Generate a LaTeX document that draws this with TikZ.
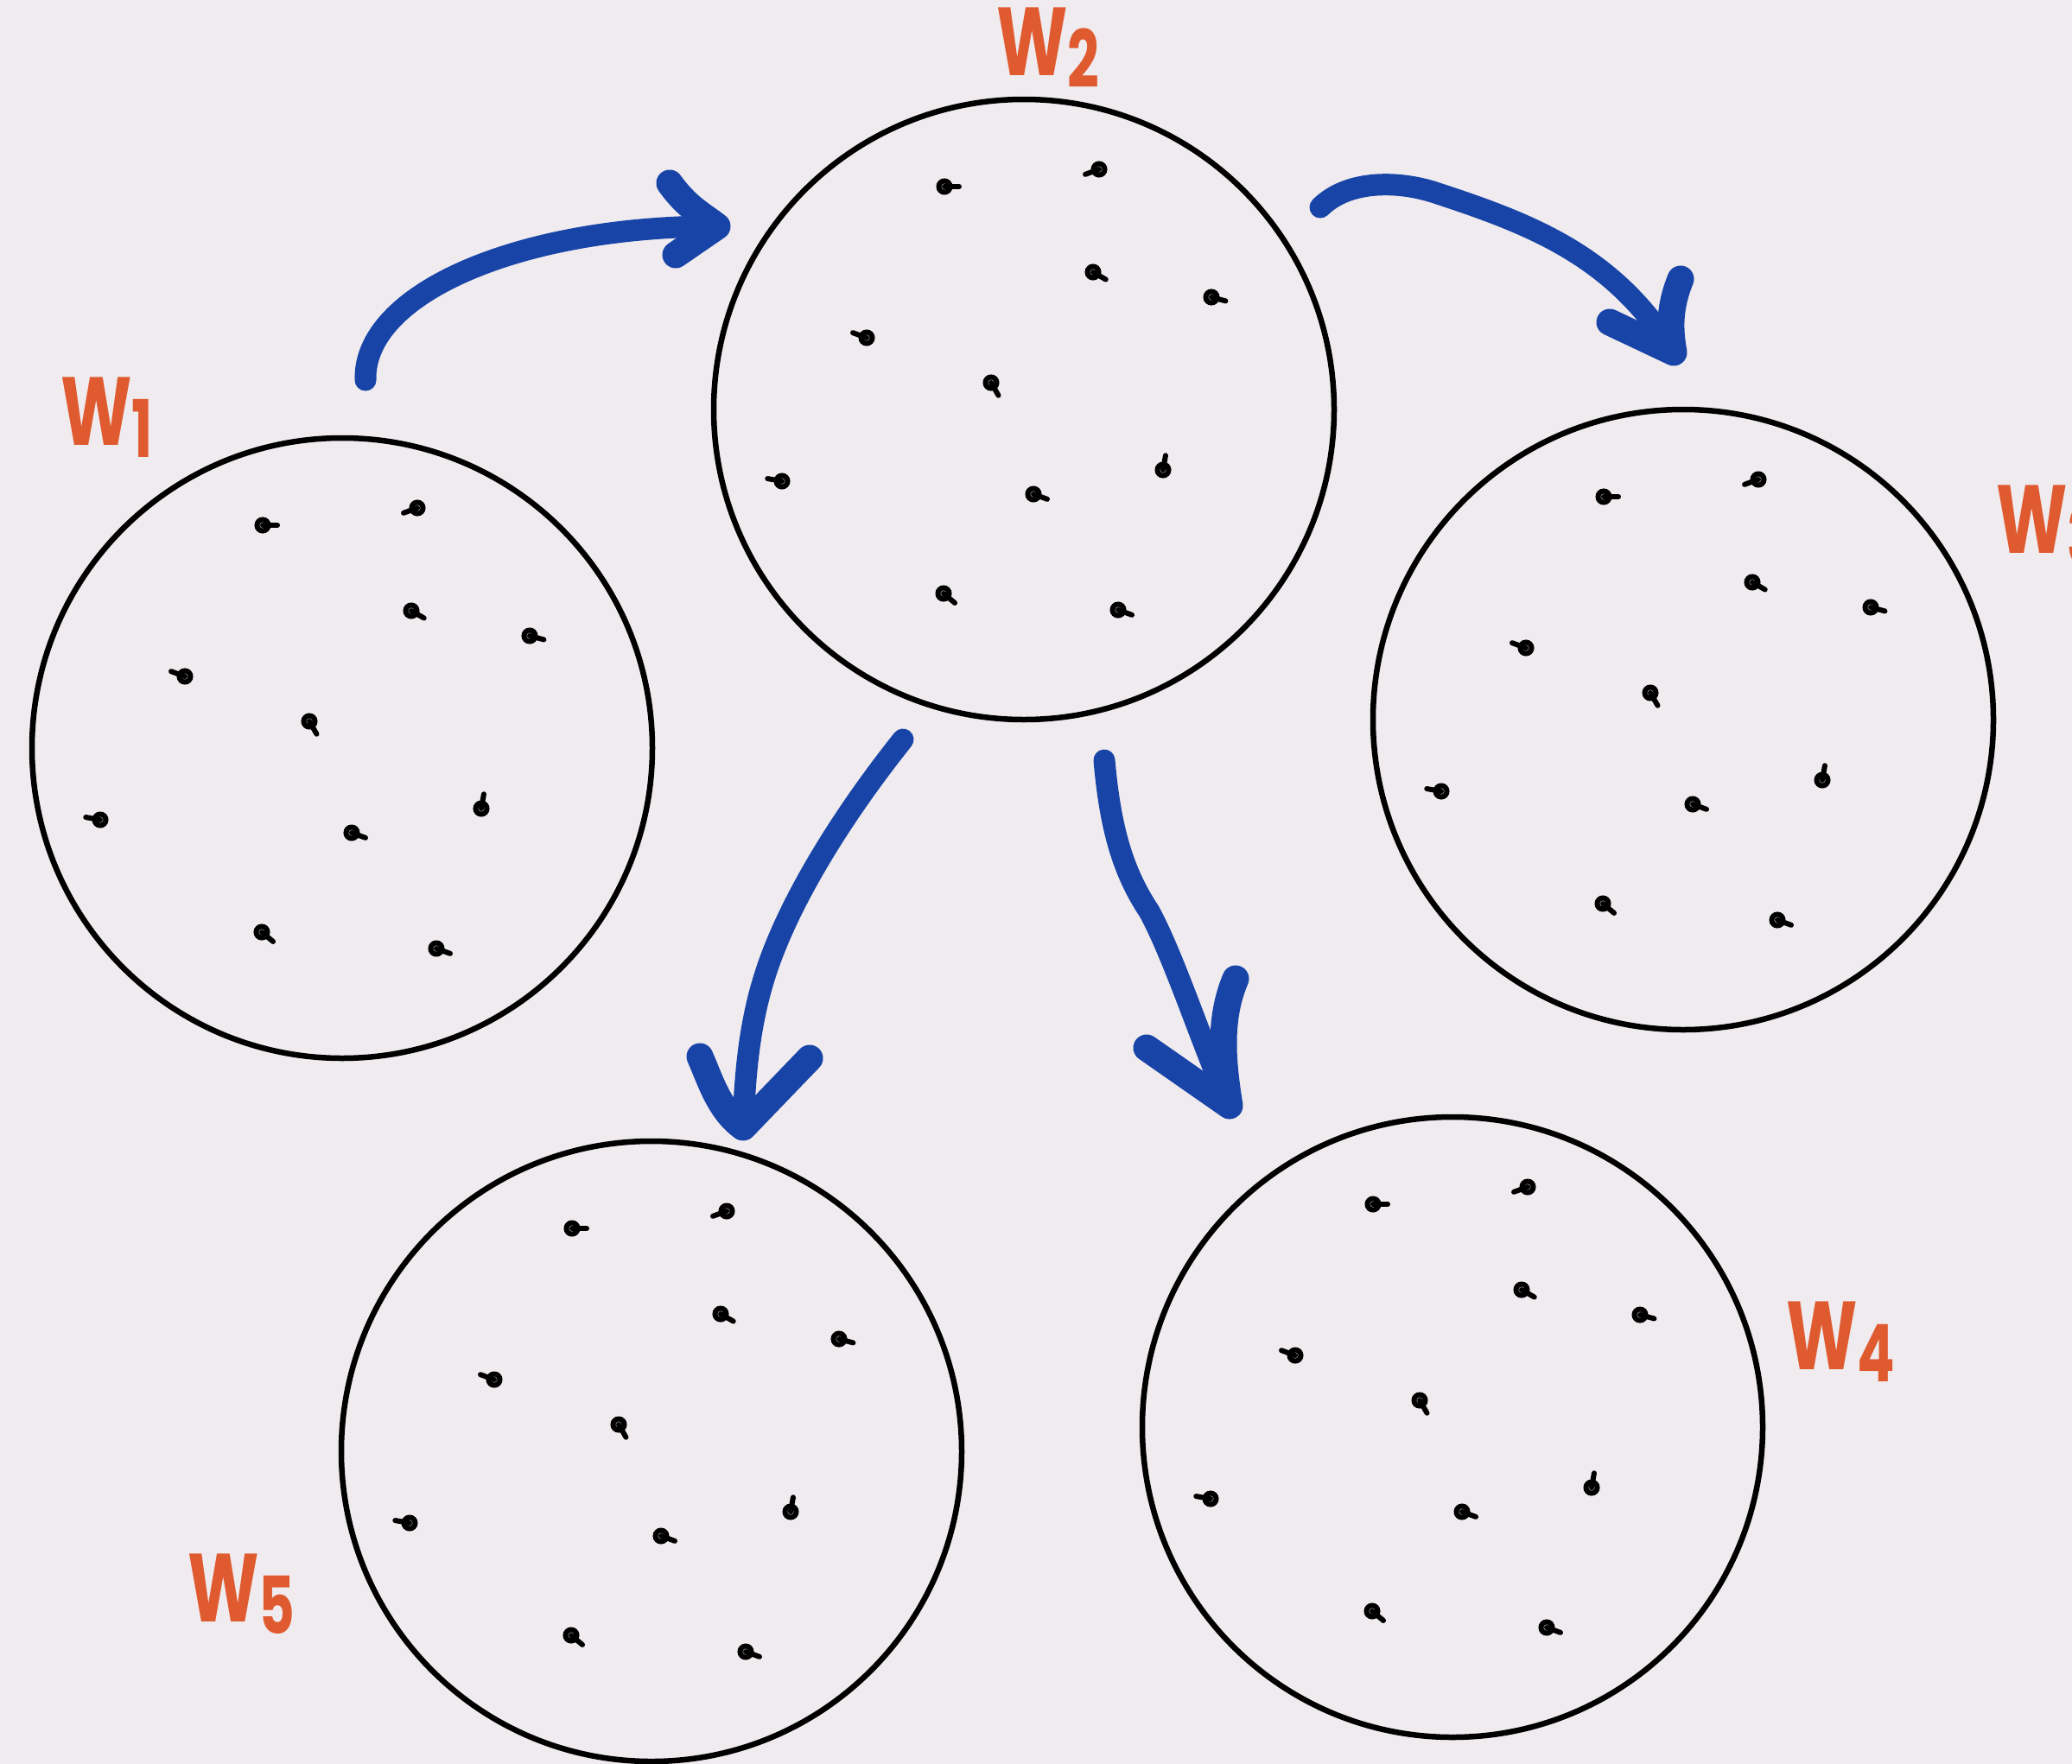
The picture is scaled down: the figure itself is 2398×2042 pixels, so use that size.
\documentclass[tikz,border=0pt]{standalone}
\usepackage{fontspec}
\setmainfont{Poppins}
\definecolor{bg}{HTML}{EFEBEE}
\definecolor{pen}{HTML}{1844A8}
\definecolor{ink}{HTML}{E05A2F}
\newcommand\wlab[1]{W\raisebox{-14pt}{\fontsize{92}{92}\selectfont #1}}
\newcommand\specks[1]{%
  \begin{scope}[shift={(#1)}]
    \foreach \dx/\dy/\a in {-92/-258/0, 87/-278/160, 80/-159/30, 217/-130/15,
      -182/-83/200, -38/-31/60, -280/83/190, 11/98/20, 161/70/-80, -93/213/40, 109/232/20}{
      \draw[speck] (\dx,\dy) circle[radius=6.5];
      \draw[speck] (\dx,\dy) -- ++(\a:17);
    }
  \end{scope}}
\begin{document}
\begin{tikzpicture}[x=1pt,y=-1pt,
  world/.style={circle,draw=black,line width=6.5pt,minimum size=718pt,inner sep=0pt},
  flow/.style={draw=pen,line width=25pt,line cap=round,line join=round},
  head/.style={flow,line width=31pt},
  lab/.style={text=ink,inner sep=0pt,anchor=base west,font=\fontsize{112}{112}\selectfont\bfseries,xscale=0.7},
  speck/.style={draw=black,line width=6pt,line cap=round}]
\path[use as bounding box,fill=bg] (0,0) rectangle (2398,2042);
\clip (0,0) rectangle (2398,2042);

% worlds
\node[world] (w1) at (396,866) {};
\node[world] (w2) at (1185,474) {};
\node[world] (w3) at (1948,833) {};
\node[world] (w4) at (1681,1652) {};
\node[world] (w5) at (754,1680) {};

\specks{w1}
\specks{w2}
\specks{w3}
\specks{w4}
\specks{w5}

% labels
\node[lab] (l1) at (70,515) {\wlab{1}};
\node[lab] (l2) at (1153,87) {\wlab{2}};
\node[lab] (l3) at (2310,640) {\wlab{3}};
\node[lab] (l4) at (2067,1585) {\wlab{4}};
\node[lab] (l5) at (217,1877) {\wlab{5}};

% arrow 1: w1 -> w2
\coordinate (a1s) at (423,440);
\coordinate (a1t) at (830,262);
\coordinate (a1u) at (775,212);
\coordinate (a1l) at (782,295);
\draw[flow] (a1s) .. controls (420,340) and (600,262) .. (a1t);
\draw[head] (a1u) .. controls (795,240) and (812,248) .. (a1t) -- (a1l);

% arrow 2: w2 -> w3
\coordinate (a2s) at (1528,240);
\coordinate (a2m) at (1667,225);
\coordinate (a2t) at (1937,408);
\coordinate (a2u) at (1945,323);
\coordinate (a2l) at (1863,373);
\draw[flow] (a2s) .. controls (1560,208) and (1620,208) .. (a2m)
  .. controls (1780,262) and (1870,300) .. (a2t);
\draw[head] (a2u) .. controls (1932,355) and (1932,380) .. (a2t) -- (a2l);

% arrow 3: w2 -> w5
\coordinate (a3s) at (1045,856);
\coordinate (a3m) at (885,1130);
\coordinate (a3t) at (860,1305);
\coordinate (a3u) at (810,1223);
\coordinate (a3l) at (937,1225);
\draw[flow] (a3s) .. controls (970,950) and (910,1050) .. (a3m)
  .. controls (866,1190) and (862,1250) .. (a3t);
\draw[head] (a3u) .. controls (822,1250) and (832,1285) .. (a3t) -- (a3l);

% arrow 4: w2 -> w4
\coordinate (a4s) at (1278,880);
\coordinate (a4m) at (1330,1055);
\coordinate (a4t) at (1423,1280);
\coordinate (a4u) at (1430,1133);
\coordinate (a4l) at (1327,1213);
\draw[flow] (a4s) .. controls (1285,960) and (1300,1010) .. (a4m)
  .. controls (1360,1110) and (1395,1220) .. (a4t);
\draw[head] (a4u) .. controls (1410,1180) and (1415,1230) .. (a4t) -- (a4l);
\end{tikzpicture}
\end{document}
